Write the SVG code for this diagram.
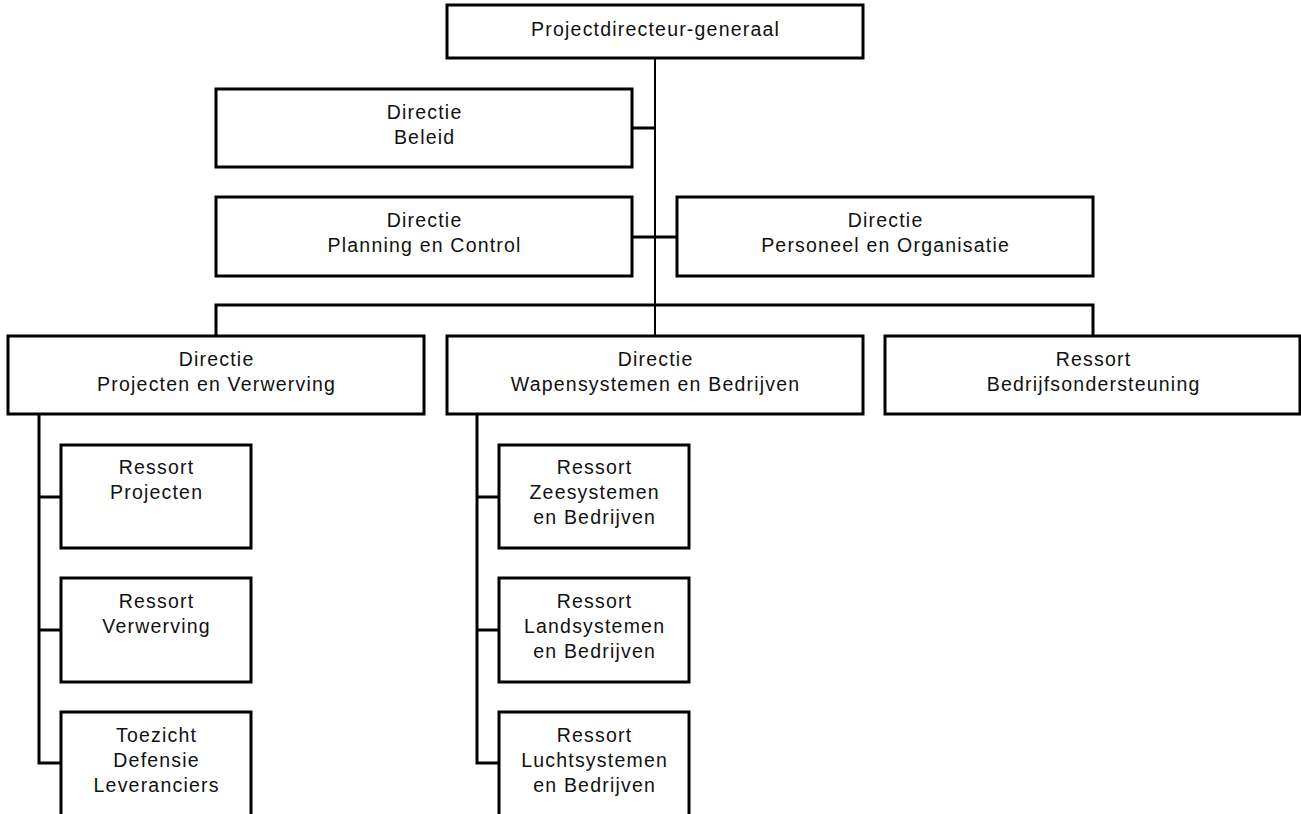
<svg xmlns="http://www.w3.org/2000/svg" width="1301" height="814" viewBox="0 0 1301 814">
<style>
.box{fill:#fff;stroke:#000;stroke-width:3}
.lbl{font-family:"Liberation Sans",Arial,sans-serif;font-size:19.5px;letter-spacing:1.2px;fill:#111;text-anchor:middle}
.c{fill:none;stroke:#000;stroke-width:3}
.cv{fill:none;stroke:#000;stroke-width:2}
</style>
<rect width="1301" height="814" fill="#fff"/>
<g id="connectors">
<path class="cv" d="M655 58V336"/>
<path class="c" d="M632 128H655M632 237H677"/>
<path class="c" d="M216 336V305H1093V336"/>
<path class="c" d="M39 414V763H61M39 497H61M39 630H61"/>
<path class="c" d="M477 414V763H499M477 497H499M477 630H499"/>
</g>
<g id="pdg"><rect class="box" x="447" y="5" width="416" height="53"/><text class="lbl" x="655.6" y="36">Projectdirecteur-generaal</text></g>
<g id="beleid"><rect class="box" x="216" y="89" width="416" height="78"/><text class="lbl" x="424.6" y="119">Directie</text><text class="lbl" x="424.6" y="144">Beleid</text></g>
<g id="planning"><rect class="box" x="216" y="197" width="416" height="79"/><text class="lbl" x="424.6" y="227">Directie</text><text class="lbl" x="424.6" y="252">Planning en Control</text></g>
<g id="personeel"><rect class="box" x="677" y="197" width="416" height="79"/><text class="lbl" x="885.6" y="227">Directie</text><text class="lbl" x="885.6" y="252">Personeel en Organisatie</text></g>
<g id="projverw"><rect class="box" x="8" y="336" width="416" height="78"/><text class="lbl" x="216.6" y="366">Directie</text><text class="lbl" x="216.6" y="391">Projecten en Verwerving</text></g>
<g id="wapensys"><rect class="box" x="447" y="336" width="416" height="78"/><text class="lbl" x="655.6" y="366">Directie</text><text class="lbl" x="655.6" y="391">Wapensystemen en Bedrijven</text></g>
<g id="bedrijf"><rect class="box" x="885" y="336" width="415" height="78"/><text class="lbl" x="1093.6" y="366">Ressort</text><text class="lbl" x="1093.6" y="391">Bedrijfsondersteuning</text></g>
<g id="projecten"><rect class="box" x="61" y="445" width="190" height="103"/><text class="lbl" x="156.6" y="474">Ressort</text><text class="lbl" x="156.6" y="499">Projecten</text></g>
<g id="verwerving"><rect class="box" x="61" y="578" width="190" height="104"/><text class="lbl" x="156.6" y="608">Ressort</text><text class="lbl" x="156.6" y="633">Verwerving</text></g>
<g id="toezicht"><rect class="box" x="61" y="712" width="190" height="110"/><text class="lbl" x="156.6" y="742">Toezicht</text><text class="lbl" x="156.6" y="767">Defensie</text><text class="lbl" x="156.6" y="792">Leveranciers</text></g>
<g id="zee"><rect class="box" x="499" y="445" width="190" height="103"/><text class="lbl" x="594.6" y="474">Ressort</text><text class="lbl" x="594.6" y="499">Zeesystemen</text><text class="lbl" x="594.6" y="524">en Bedrijven</text></g>
<g id="land"><rect class="box" x="499" y="578" width="190" height="104"/><text class="lbl" x="594.6" y="608">Ressort</text><text class="lbl" x="594.6" y="633">Landsystemen</text><text class="lbl" x="594.6" y="658">en Bedrijven</text></g>
<g id="lucht"><rect class="box" x="499" y="712" width="190" height="110"/><text class="lbl" x="594.6" y="742">Ressort</text><text class="lbl" x="594.6" y="767">Luchtsystemen</text><text class="lbl" x="594.6" y="792">en Bedrijven</text></g>
</svg>
